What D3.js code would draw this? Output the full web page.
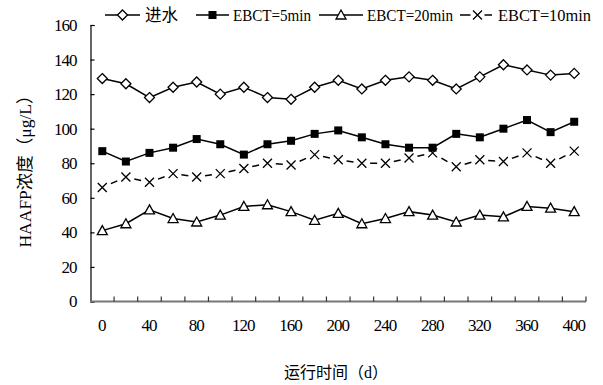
<!DOCTYPE html>
<html>
<head>
<meta charset="utf-8">
<script src="https://cdn.jsdelivr.net/npm/d3@7"></script>
<style>
  body { margin: 0; background: #fff; }
</style>
</head>
<body>
<div id="chart"></div>
<script>
// 运行时间 (d)
const days = [0, 20, 40, 60, 80, 100, 120, 140, 160, 180, 200, 220, 240, 260, 280, 300, 320, 340, 360, 380, 400];
const yTicks = [0, 20, 40, 60, 80, 100, 120, 140, 160];
const xLabels = [0, 40, 80, 120, 160, 200, 240, 280, 320, 360, 400];

// HAAFP 浓度 (μg/L)
const influent = [129, 126, 118, 124, 127, 120, 124, 118, 117, 124, 128, 123, 128, 130, 128, 123, 130, 137, 134, 131, 132];
const ebct5 = [87, 81, 86, 89, 94, 91, 85, 91, 93, 97, 99, 95, 91, 89, 89, 97, 95, 100, 105, 98, 104];
const ebct20 = [41, 45, 53, 48, 46, 50, 55, 56, 52, 47, 51, 45, 48, 52, 50, 46, 50, 49, 55, 54, 52];
const ebct10 = [66, 72, 69, 74, 72, 74, 77, 80, 79, 85, 82, 80, 80, 83, 86, 78, 82, 81, 86, 80, 87];

const series = [
    { name: '进水', values: influent, marker: 'diamond', dashed: false },
    { name: 'EBCT=5min', values: ebct5, marker: 'square', dashed: false },
    { name: 'EBCT=20min', values: ebct20, marker: 'triangle', dashed: false },
    { name: 'EBCT=10min', values: ebct10, marker: 'cross', dashed: true }
];

const SERIF = '"Liberation Serif", "Times New Roman", Tinos, "DejaVu Serif", "Noto Sans CJK SC", serif';

const W = 603, H = 385;
const plot = { left: 90.5, right: 586, top: 25, bottom: 301.5 };

const svg = d3.select('#chart').append('svg')
    .attr('width', W)
    .attr('height', H)
    .style('font-family', SERIF);

const x = d3.scaleBand()
    .domain(days)
    .range([plot.left, plot.right])
    .padding(0);
const cx = d => x(d) + x.bandwidth() / 2;

const y = d3.scaleLinear()
    .domain([0, 160])
    .range([plot.bottom, plot.top]);

// Eix Y
const yAxis = svg.append('g')
    .attr('transform', `translate(${plot.left},0)`)
    .call(d3.axisLeft(y).tickValues(yTicks).tickSize(-4).tickPadding(14));
yAxis.attr('font-family', null).attr('font-size', null);
yAxis.select('.domain').attr('stroke', '#000').attr('stroke-width', 1.2);
yAxis.selectAll('.tick line').attr('stroke', '#000').attr('stroke-width', 1.2);
yAxis.selectAll('text')
    .style('font-family', SERIF)
    .style('font-size', '17px')
    .style('letter-spacing', '-1px')
    .attr('fill', '#000');

// Eix X
svg.append('line')
    .attr('x1', plot.left - 0.5)
    .attr('x2', plot.right)
    .attr('y1', plot.bottom)
    .attr('y2', plot.bottom)
    .attr('stroke', '#777')
    .attr('stroke-width', 2);

const tickEdges = days.map(d => x(d)).concat([x(days[days.length - 1]) + x.bandwidth()]);
svg.selectAll('.xtick')
    .data(tickEdges.slice(1))
    .enter()
    .append('line')
    .attr('class', 'xtick')
    .attr('x1', d => d)
    .attr('x2', d => d)
    .attr('y1', plot.bottom)
    .attr('y2', plot.bottom - 5)
    .attr('stroke', '#333')
    .attr('stroke-width', 1.2);

svg.selectAll('.xlabel')
    .data(xLabels)
    .enter()
    .append('text')
    .attr('class', 'xlabel')
    .attr('x', d => cx(d) - 0.5)
    .attr('y', 331)
    .attr('text-anchor', 'middle')
    .style('font-family', SERIF)
    .style('font-size', '17px')
    .style('letter-spacing', '-1px')
    .text(d => d);

// Títols dels eixos
svg.append('text')
    .attr('x', 336)
    .attr('y', 378)
    .attr('text-anchor', 'middle')
    .style('font-family', SERIF)
    .style('font-size', '16px')
    .text('运行时间（d）');

svg.append('text')
    .attr('transform', 'translate(31,167) rotate(-90)')
    .attr('text-anchor', 'middle')
    .style('font-family', SERIF)
    .style('font-size', '17.5px')
    .text('HAAFP浓度（μg/L）');

// Marcadors
function drawMarker(g, type, px, py) {
    if (type === 'diamond') {
        g.append('path')
            .attr('d', `M${px},${py - 5}L${px + 5},${py}L${px},${py + 5}L${px - 5},${py}Z`)
            .attr('fill', '#fff').attr('stroke', '#000').attr('stroke-width', 1.3);
    } else if (type === 'square') {
        g.append('rect')
            .attr('x', px - 4).attr('y', py - 4).attr('width', 8).attr('height', 8)
            .attr('fill', '#000');
    } else if (type === 'triangle') {
        g.append('path')
            .attr('d', `M${px},${py - 5}L${px + 5},${py + 4}L${px - 5},${py + 4}Z`)
            .attr('fill', '#fff').attr('stroke', '#000').attr('stroke-width', 1.3);
    } else if (type === 'cross') {
        g.append('path')
            .attr('d', `M${px - 4.5},${py - 4.5}L${px + 4.5},${py + 4.5}M${px + 4.5},${py - 4.5}L${px - 4.5},${py + 4.5}`)
            .attr('fill', 'none').attr('stroke', '#000').attr('stroke-width', 1.3);
    }
}

// Línies
const line = d3.line().x(d => cx(d.day)).y(d => y(d.v));

series.forEach(s => {
    const pts = days.map((day, i) => ({ day, v: s.values[i] }));
    const g = svg.append('g');
    if (s.dashed) {
        d3.pairs(pts).forEach(([a, b]) => {
            const x1 = cx(a.day), y1 = y(a.v), x2 = cx(b.day), y2 = y(b.v);
            const len = Math.hypot(x2 - x1, y2 - y1);
            const dash = 7;
            g.append('line')
                .attr('x1', x1).attr('y1', y1).attr('x2', x2).attr('y2', y2)
                .attr('stroke', '#000').attr('stroke-width', 1.5)
                .attr('stroke-dasharray', `0,${(len - dash) / 2},${dash},${len}`);
        });
    } else {
        g.append('path')
            .datum(pts)
            .attr('d', line)
            .attr('fill', 'none')
            .attr('stroke', '#000')
            .attr('stroke-width', 1.5);
    }
    pts.forEach(p => drawMarker(g, s.marker, cx(p.day), y(p.v)));
});

// Llegenda
const legendItems = [
    { s: series[0], x0: 105, x1: 140, tx: 145, w: 33 },
    { s: series[1], x0: 196, x1: 229, tx: 233, w: 78 },
    { s: series[2], x0: 319, x1: 363, tx: 367, w: 86 },
    { s: series[3], x0: 460, x1: 495, tx: 498, w: 93 }
];
const ly = 15;
legendItems.forEach(item => {
    const g = svg.append('g');
    const mid = (item.x0 + item.x1) / 2;
    if (item.s.dashed) {
        g.append('line').attr('x1', item.x0).attr('x2', mid - 7).attr('y1', ly).attr('y2', ly)
            .attr('stroke', '#000').attr('stroke-width', 1.5);
        g.append('line').attr('x1', mid + 7).attr('x2', item.x1 - 3).attr('y1', ly).attr('y2', ly)
            .attr('stroke', '#000').attr('stroke-width', 1.5);
    } else {
        g.append('line').attr('x1', item.x0).attr('x2', item.x1).attr('y1', ly).attr('y2', ly)
            .attr('stroke', '#000').attr('stroke-width', 1.5);
    }
    drawMarker(g, item.s.marker, mid, ly);
    g.append('text')
        .attr('x', item.tx)
        .attr('y', ly + 6)
        .attr('textLength', item.w)
        .attr('lengthAdjust', 'spacingAndGlyphs')
        .style('font-family', SERIF)
        .style('font-size', '17px')
        .text(item.s.name);
});
</script>
</body>
</html>
